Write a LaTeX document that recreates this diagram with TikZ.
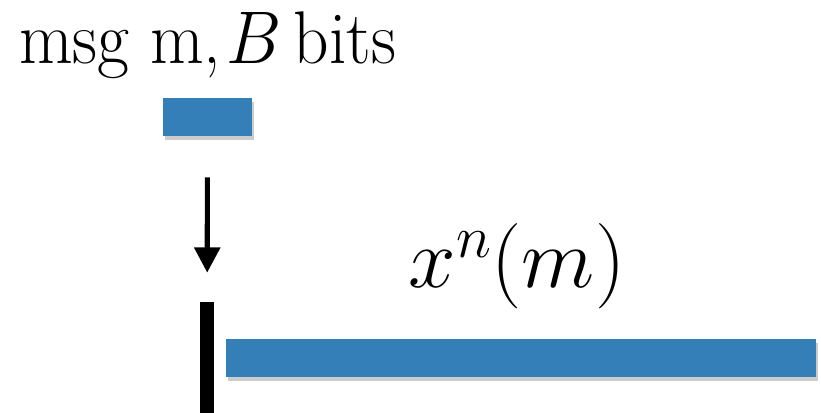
\RequirePackage{fix-cm}
\documentclass[tikz,border=0pt]{standalone}
\usepackage{xcolor}
\definecolor{msgblue}{RGB}{52,127,184}
\usepackage{tikz}
\usetikzlibrary{arrows.meta,positioning,calc,shadows}

\begin{document}
\begin{tikzpicture}[x=0.75pt,y=-0.75pt,
  bar/.style={fill=msgblue,inner sep=0pt,outer sep=0pt,minimum height=28.5pt,
    drop shadow={shadow xshift=1.5pt,shadow yshift=-3pt,opacity=0.2,fill=black}},
  big/.style={font=\fontsize{56}{60}\selectfont,inner sep=0pt}]
  \useasboundingbox (0,0) rectangle (821,413);
  % 消息
  \node[big,anchor=base] (label) at (207.5,64) {\scalebox{0.93}[1]{msg m,\hspace{0.08em}$B$\,bits}};
  \node[bar,minimum width=66.75pt] (msg) at (207.5,117) {};
  % 竖线
  \node[fill=black,inner sep=0pt,minimum width=10.5pt,minimum height=90pt,anchor=north] (tick) at (207,302) {};
  % 码字
  \node[bar,minimum width=442.5pt,anchor=west] (code) at (226,358) {};
  \node[big,font=\fontsize{64}{68}\selectfont,anchor=base] (xn) at (517,288) {$x^n(m)$};
  % 箭头
  \draw[line width=3.8pt,-{Triangle[width=19pt,length=19pt]},shorten <=31pt,shorten >=22pt] (msg) -- (tick);
\end{tikzpicture}
\end{document}
